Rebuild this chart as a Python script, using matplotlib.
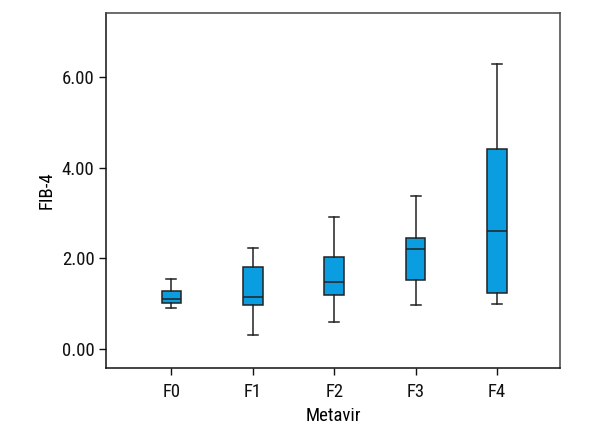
import matplotlib.pyplot as plt
from matplotlib import font_manager

# font: condensed look if available
names = {f.name for f in font_manager.fontManager.ttflist}
prefs = ['Liberation Sans Narrow', 'Roboto Condensed', 'Open Sans Condensed',
         'DejaVu Sans Condensed', 'Roboto', 'DejaVu Sans']
fam = [n for n in prefs if n in names]
plt.rcParams['font.family'] = fam

categories = ['F0', 'F1', 'F2', 'F3', 'F4']
whisker_low = [0.91, 0.30, 0.60, 0.98, 0.99]
q1 = [1.01, 0.98, 1.20, 1.53, 1.24]
median = [1.10, 1.15, 1.47, 2.21, 2.61]
q3 = [1.27, 1.81, 2.03, 2.44, 4.42]
whisker_high = [1.55, 2.23, 2.92, 3.38, 6.29]
yticks = [0, 2, 4, 6]

stats = []
for i, c in enumerate(categories):
    stats.append({'label': c, 'whislo': whisker_low[i], 'q1': q1[i], 'med': median[i],
                  'q3': q3[i], 'whishi': whisker_high[i], 'fliers': []})

fig = plt.figure(figsize=(6, 4.4), dpi=100)
ax = fig.add_axes([0.177, 0.164, 0.756, 0.807])

ax.bxp(stats, positions=range(len(categories)), widths=0.24, capwidths=0.12,
       patch_artist=True, showfliers=False,
       boxprops=dict(facecolor='#0a9ee0', edgecolor='#222222', linewidth=1.1),
       medianprops=dict(color='#222222', linewidth=1.1),
       whiskerprops=dict(color='#222222', linewidth=1.1),
       capprops=dict(color='#222222', linewidth=1.1))

ax.set_xlim(-0.8, 4.77)
ax.set_ylim(-0.42, 7.43)
ax.set_yticks(yticks)
ax.set_yticklabels([f'{v:.2f}' for v in yticks])
ax.set_xticks(range(len(categories)))
ax.set_xticklabels(categories)
ax.tick_params(direction='out', length=5, width=1, labelsize=13.5, colors='#111111')
ax.tick_params(axis='x', pad=6)
for side in ['left', 'bottom']:
    ax.spines[side].set_color('#111111')
for side in ['top', 'right']:
    ax.spines[side].set_color('#444444')
for s in ax.spines.values():
    s.set_linewidth(1.1)

ax.set_xlabel('Metavir', fontsize=13.5, labelpad=4)
ax.set_ylabel('FIB-4', fontsize=13.5, labelpad=4)

fig.savefig('out.png', dpi=100)
